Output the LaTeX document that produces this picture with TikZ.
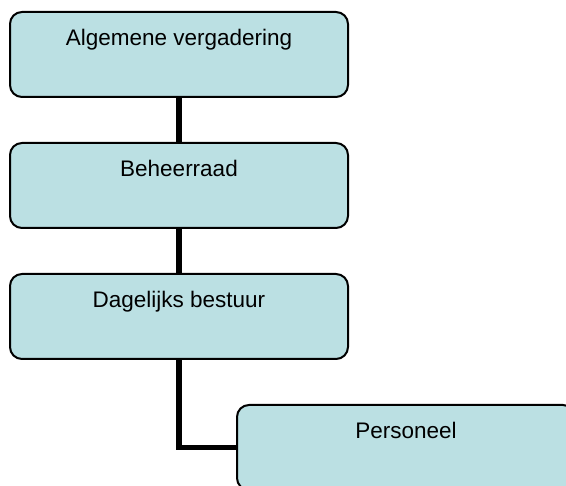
\documentclass[tikz,border=0pt]{standalone}
\usepackage{fontspec}
\setmainfont{Liberation Sans}
\definecolor{boxfill}{HTML}{BBE0E3}
\tikzset{
  orgbox/.style={draw=black, line width=2pt, fill=boxfill, rounded corners=12pt,
    minimum width=338pt, minimum height=85pt, inner sep=0pt},
  orgtext/.style={anchor=base, font=\fontsize{22.5}{27}\selectfont, inner sep=0pt},
  link/.style={draw=black, line width=5.5pt}
}
\begin{document}
\begin{tikzpicture}[x=1pt,y=-1pt]
\useasboundingbox (0,0) rectangle (566,486);
\clip (0,0) rectangle (566,486);
\node[orgbox] (a) at (179,54.5) {};
\node[orgbox] (b) at (179,185.5) {};
\node[orgbox] (c) at (179,316.5) {};
\node[orgbox] (d) at (406,447.5) {};
\draw[link] (a.south) -- (b.north);
\draw[link] (b.south) -- (c.north);
\draw[link] (c.south) |- (d.west);
\node[orgtext] (ta) at ([yshift=-34.5pt]a.north) {Algemene vergadering};
\node[orgtext] (tb) at ([yshift=-34.5pt]b.north) {Beheerraad};
\node[orgtext] (tc) at ([yshift=-34.5pt]c.north) {Dagelijks bestuur};
\node[orgtext] (td) at ([yshift=-34.5pt]d.north) {Personeel};
\end{tikzpicture}
\end{document}
